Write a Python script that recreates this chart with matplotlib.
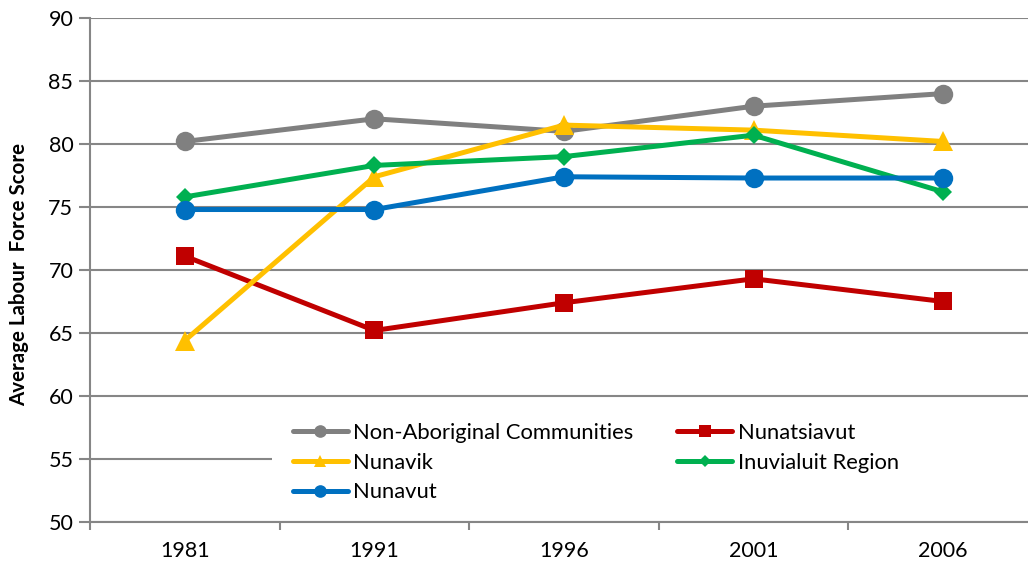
import matplotlib
matplotlib.use("Agg")
import matplotlib.pyplot as plt
from matplotlib.patches import Rectangle
import numpy as np

years = ["1981", "1991", "1996", "2001", "2006"]
non_aboriginal = [80.2, 82.0, 81.0, 83.0, 84.0]
nunatsiavut = [71.1, 65.2, 67.4, 69.3, 67.5]
nunavik = [64.4, 77.4, 81.5, 81.1, 80.2]
inuvialuit = [75.8, 78.3, 79.0, 80.7, 76.2]
nunavut = [74.8, 74.8, 77.4, 77.3, 77.3]

plt.rcParams['font.family'] = ['Lato', 'DejaVu Sans']

fig = plt.figure(figsize=(10.28, 5.66), dpi=100)
ax = fig.add_axes([90/1028, 44/566, 948/1028, 504/566])

x = np.arange(len(years))
grid_c = "#868686"
series = [
    ("Non-Aboriginal Communities", non_aboriginal, "#808080", "o", 14),
    ("Nunatsiavut", nunatsiavut, "#C00000", "s", 12.5),
    ("Nunavik", nunavik, "#FFC000", "^", 14),
    ("Inuvialuit Region", inuvialuit, "#00B050", "D", 9),
    ("Nunavut", nunavut, "#0070C0", "o", 14),
]
handles = {}
for i, (name, vals, col, mk, ms) in enumerate(series):
    h, = ax.plot(x, vals, color=col, lw=3.6, marker=mk, markersize=ms,
                 markeredgewidth=0, label=name, zorder=3 + i, solid_capstyle='round')
    handles[name] = h

ax.set_xlim(-0.5, 4.5)
ax.set_ylim(50, 90)
ax.set_yticks(np.arange(50, 91, 5))
ax.set_xticks(x)
ax.set_xticklabels(years)
ax.set_xticks(np.arange(-0.5, 4.6, 1), minor=True)
ax.tick_params(axis='x', which='major', length=0, pad=14, labelsize=15.5)
ax.tick_params(axis='x', which='minor', length=6, width=1.5, color=grid_c, direction='out')
ax.tick_params(axis='y', length=8, width=1.5, color=grid_c, labelsize=15.5, pad=4)
ax.grid(axis='y', color=grid_c, lw=1.5, zorder=0)
ax.set_axisbelow(True)
for s in ['top', 'right']:
    ax.spines[s].set_visible(False)
for s in ['left', 'bottom']:
    ax.spines[s].set_color(grid_c)
    ax.spines[s].set_linewidth(1.5)

ax.set_ylabel("Average Labour  Force Score", fontsize=14.8, fontweight='bold')
ax.yaxis.set_label_coords((29 - 90) / 948, (522 - 275) / 504)

# white legend background area
ax.add_patch(Rectangle(((272 - 90) / 948, (522 - 512) / 504), 1.0, (512 - 410) / 504,
                       transform=ax.transAxes, facecolor='white', edgecolor='none',
                       zorder=1, clip_on=False))

order = ["Non-Aboriginal Communities", "Nunavik", "Nunavut", "Nunatsiavut", "Inuvialuit Region"]
leg = ax.legend([handles[n] for n in order], order, ncol=2, loc='upper left',
                bbox_to_anchor=((293 - 90) / 948, (522 - 423) / 504), frameon=False,
                fontsize=15.8, markerscale=0.65, handlelength=2.5, handletextpad=0.25,
                columnspacing=2.0, labelspacing=0.44, borderaxespad=0, borderpad=0)
leg.set_zorder(2.5)

fig.savefig("out.png", dpi=100)
